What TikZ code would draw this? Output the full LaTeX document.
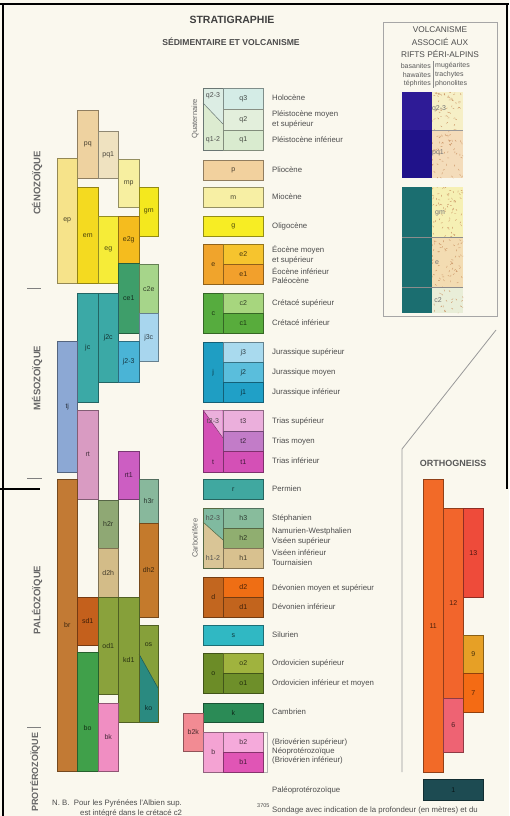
\documentclass[tikz,border=0pt]{standalone}
\usepackage{fontspec}
\setmainfont{Liberation Sans}

\definecolor{bgcream}{HTML}{FAF8EE}
% colonnes de gauche
\definecolor{cpq}{HTML}{EED2A0}
\definecolor{cpqa}{HTML}{EFE2C0}
\definecolor{cmp}{HTML}{F7EFA0}
\definecolor{cgm}{HTML}{F4E81E}
\definecolor{cep}{HTML}{F6E38A}
\definecolor{cem}{HTML}{F4DA20}
\definecolor{ceg}{HTML}{F6EC38}
\definecolor{cetg}{HTML}{F5BC1E}
\definecolor{ccea}{HTML}{3E9E6A}
\definecolor{ccte}{HTML}{A6D58A}
\definecolor{cjtc}{HTML}{A8D6EE}
\definecolor{cjc}{HTML}{3BA9A6}
\definecolor{cjtt}{HTML}{4AB4D6}
\definecolor{ctj}{HTML}{8CA8D4}
\definecolor{crt}{HTML}{D99BC2}
\definecolor{crta}{HTML}{CC5EC2}
\definecolor{cbr}{HTML}{C27A34}
\definecolor{chtr}{HTML}{88B89C}
\definecolor{chdr}{HTML}{8FA874}
\definecolor{cdth}{HTML}{D3BC88}
\definecolor{cdht}{HTML}{C47A2C}
\definecolor{csda}{HTML}{C4601C}
\definecolor{coda}{HTML}{8AA23C}
\definecolor{ckda}{HTML}{86A03A}
\definecolor{cos}{HTML}{86A03A}
\definecolor{cko}{HTML}{2A8A80}
\definecolor{cbo}{HTML}{40A04A}
\definecolor{cbk}{HTML}{F08EC2}
% legende
\definecolor{cqt}{HTML}{D4ECE6}
\definecolor{cqd}{HTML}{E3EFDC}
\definecolor{cqo}{HTML}{D9EBCF}
\definecolor{cqtt}{HTML}{DCEDE4}
\definecolor{cqot}{HTML}{DCEBD0}
\definecolor{cp}{HTML}{F2D19E}
\definecolor{cm}{HTML}{F7EFA4}
\definecolor{cg}{HTML}{F7ED24}
\definecolor{ce}{HTML}{F0A42C}
\definecolor{cet}{HTML}{F6C42E}
\definecolor{ceo}{HTML}{F2A02C}
\definecolor{cc}{HTML}{56AC3E}
\definecolor{cct}{HTML}{A7D67E}
\definecolor{cco}{HTML}{58AC3C}
\definecolor{cj}{HTML}{1F9EC3}
\definecolor{cjt}{HTML}{A9DAEE}
\definecolor{cjd}{HTML}{5ABEDC}
\definecolor{cjo}{HTML}{20A0C7}
\definecolor{ct}{HTML}{D450B6}
\definecolor{ctp}{HTML}{EBAFDC}
\definecolor{ctt}{HTML}{EBAFDC}
\definecolor{ctd}{HTML}{C27CC8}
\definecolor{cto}{HTML}{D450B6}
\definecolor{cr}{HTML}{40A8A0}
\definecolor{chtt}{HTML}{80BAA0}
\definecolor{choo}{HTML}{D9C596}
\definecolor{cht}{HTML}{88BC9C}
\definecolor{chd}{HTML}{90AE70}
\definecolor{cho}{HTML}{D8C18F}
\definecolor{cd}{HTML}{C2661F}
\definecolor{cdt}{HTML}{EF6E14}
\definecolor{cdo}{HTML}{C2641D}
\definecolor{cs}{HTML}{30B8C3}
\definecolor{co}{HTML}{6C8C27}
\definecolor{cot}{HTML}{A0B33E}
\definecolor{coo}{HTML}{6E8F2A}
\definecolor{ck}{HTML}{2B8B56}
\definecolor{cb}{HTML}{F4A3D3}
\definecolor{cbt}{HTML}{F5AADB}
\definecolor{cbbo}{HTML}{E055B5}
\definecolor{cbtk}{HTML}{F28B93}
% volcanisme
\definecolor{cvba}{HTML}{2E1B96}
\definecolor{cvbb}{HTML}{20128A}
\definecolor{cvt}{HTML}{1B6E70}
\definecolor{cspa}{HTML}{F6EFC6}
\definecolor{cspb}{HTML}{F4DCBA}
\definecolor{cspc}{HTML}{F6F0B4}
\definecolor{cspd}{HTML}{F3DCB2}
\definecolor{cspe}{HTML}{E9EED8}
\definecolor{cspk}{HTML}{C89060}
% orthogneiss
\definecolor{cgel}{HTML}{F26A28}
\definecolor{cgtw}{HTML}{F2652C}
\definecolor{cgth}{HTML}{EE4B3A}
\definecolor{cgni}{HTML}{E6A026}
\definecolor{cgse}{HTML}{F46B14}
\definecolor{cgsi}{HTML}{EE6373}
\definecolor{cgon}{HTML}{1D4B52}

\begin{document}
\begin{tikzpicture}[x = 1pt, y = -1pt,
    blk/.style = {draw = #1!60!black, fill = #1, line width = 0.5pt, inner sep = 0pt,
                  anchor = north west, text = #1!30!black, font = \fontsize{7}{8}\selectfont},
    tag/.style = {inner sep = 0pt, text = black!70, font = \fontsize{7}{8}\selectfont},
    lbl/.style = {anchor = west, inner sep = 0pt, text = black!70, font = \fontsize{7.8}{9}\selectfont},
    era/.style = {rotate = 90, inner sep = 0pt, text = black!60, font = \bfseries\fontsize{9.5}{10}\selectfont},
    tick/.style = {draw = black!50, line width = 0.9pt},
    speck/.style = {draw = cspk, line width = 0.4pt}]

  \useasboundingbox (0,0) rectangle (509,816);
  \fill [bgcream] (0,0) rectangle (509,816);

  % cadre noir
  \draw [line width = 2pt] (0,4) -- (509,4);
  \draw [line width = 2pt] (3,4) -- (3,816);
  \draw [line width = 1.5pt] (0,489) -- (40,489);
  \draw [line width = 2pt] (507,4) -- (507,489);

  % titres
  \node [font = \bfseries\fontsize{10.5}{12}\selectfont, text = black!75] (titre) at (232,20) {STRATIGRAPHIE};
  \node [font = \bfseries\fontsize{8.6}{10}\selectfont, text = black!70] (soustitre) at (231,42) {SÉDIMENTAIRE ET VOLCANISME};

  % eres
  \node [era] (ceno) at (37,183) {CÉNOZOÏQUE};
  \node [era] (meso) at (37,378) {MÉSOZOÏQUE};
  \node [era] (paleo) at (37,600) {PALÉOZOÏQUE};
  \node [era, font = \bfseries\fontsize{9}{10}\selectfont] (prot) at (35,772) {PROTÉROZOÏQUE};
  \draw [tick] (27,288) -- (41,288);
  \draw [tick] (27,478) -- (42,478);
  \draw [tick] (27,727) -- (41,727);

  % colonnes stratigraphiques
  \node [blk = cpq, minimum width = 21, minimum height = 68] (pq) at (77,110) {pq};
  \node [blk = cpqa, minimum width = 20, minimum height = 47] (pqa) at (98,131) {pq1};
  \node [blk = cmp, minimum width = 21, minimum height = 48] (mp) at (118,159) {mp};
  \node [blk = cgm, minimum width = 19, minimum height = 49] (gm) at (139,187) {gm};
  \node [blk = cep, minimum width = 20, minimum height = 125] (ep) at (57,158) {ep};
  \node [blk = cem, minimum width = 21, minimum height = 96] (em) at (77,187) {em};
  \node [blk = ceg, minimum width = 20, minimum height = 67] (eg) at (98,216) {eg};
  \node [blk = cetg, minimum width = 21, minimum height = 47] (etg) at (118,216) {e2g};
  \node [blk = ccea, minimum width = 21, minimum height = 70] (cea) at (118,263) {ce1};
  \node [blk = ccte, minimum width = 19, minimum height = 49] (cte) at (139,264) {c2e};
  \node [blk = cjtc, minimum width = 19, minimum height = 48] (jtc) at (139,313) {j3c};
  \node [blk = cjc, minimum width = 21, minimum height = 109] (jc) at (77,293) {jc};
  \node [blk = cjc, minimum width = 20, minimum height = 89] (jdc) at (98,293) {j2c};
  \node [blk = cjtt, minimum width = 21, minimum height = 41] (jtt) at (118,341) {j2-3};
  \node [blk = ctj, minimum width = 20, minimum height = 131] (tj) at (57,341) {tj};
  \node [blk = crt, minimum width = 21, minimum height = 89] (rt) at (77,410) {rt};
  \node [blk = crta, minimum width = 21, minimum height = 48] (rta) at (118,451) {rt1};
  \node [blk = cbr, minimum width = 20, minimum height = 292] (br) at (57,479) {br};
  \node [blk = chtr, minimum width = 19, minimum height = 44] (htr) at (139,479) {h3r};
  \node [blk = chdr, minimum width = 20, minimum height = 48] (hdr) at (98,500) {h2r};
  \node [blk = cdth, minimum width = 20, minimum height = 49] (dth) at (98,548) {d2h};
  \node [blk = cdht, minimum width = 19, minimum height = 94] (dht) at (139,523) {dh2};
  \node [blk = csda, minimum width = 21, minimum height = 48] (sda) at (77,597) {sd1};
  \node [blk = coda, minimum width = 20, minimum height = 97] (oda) at (98,597) {od1};
  \node [blk = ckda, minimum width = 21, minimum height = 125] (kda) at (118,597) {kd1};
  \node [blk = cbo, minimum width = 21, minimum height = 119] (bo) at (77,652) {};
  \node [tag, text = cbo!30!black] (bolab) at (87.5,728) {bo};
  \node [blk = cbk, minimum width = 20, minimum height = 68] (bk) at (98,703) {bk};
  \fill [cos] (139,625) -- (158,625) -- (158,688) -- (139,654) -- cycle;
  \fill [cko] (139,654) -- (158,688) -- (158,722) -- (139,722) -- cycle;
  \draw [cko!60!black, line width = 0.5pt] (139,654) -- (158,688);
  \draw [cos!60!black, line width = 0.5pt] (139,625) rectangle (158,722);
  \node [tag, text = cos!30!black] (oslab) at (148.5,645) {os};
  \node [tag, text = cko!30!black] (kolab) at (148.5,708) {ko};

  % legende : quaternaire
  \node [rotate = 90, inner sep = 0pt, text = black!60, font = \fontsize{7.5}{8}\selectfont] (quat) at (195,119) {Quaternaire};
  \fill [cqot] (203,88) rectangle (223,150);
  \fill [cqtt] (203,88) -- (223,88) -- (223,124) -- (203,103) -- cycle;
  \draw [cqt!50!black, line width = 0.5pt] (203,103) -- (223,124);
  \draw [cqt!50!black, line width = 0.5pt] (203,88) rectangle (223,150);
  \node [tag] (qtt) at (213,96) {q2-3};
  \node [tag] (qot) at (213,140) {q1-2};
  \node [blk = cqt, minimum width = 40, minimum height = 21] (qt) at (223,88) {q3};
  \node [blk = cqd, minimum width = 40, minimum height = 21] (qd) at (223,109) {q2};
  \node [blk = cqo, minimum width = 40, minimum height = 20] (qo) at (223,130) {q1};
  \node [lbl] (holo) at (272,98) {Holocène};
  \node [lbl] (pleia) at (272,114) {Pléistocène moyen};
  \node [lbl] (pleib) at (272,124) {et supérieur};
  \node [lbl] (pleic) at (272,140) {Pléistocène inférieur};

  % tertiaire
  \node [blk = cp, minimum width = 60, minimum height = 20] (p) at (203,160) {p};
  \node [lbl] (plio) at (272,170) {Pliocène};
  \node [blk = cm, minimum width = 60, minimum height = 20] (m) at (203,187) {m};
  \node [lbl] (mio) at (272,197) {Miocène};
  \node [blk = cg, minimum width = 60, minimum height = 20] (g) at (203,216) {g};
  \node [lbl] (oligo) at (272,226) {Oligocène};
  \node [blk = ce, minimum width = 20, minimum height = 40] (e) at (203,244) {e};
  \node [blk = cet, minimum width = 40, minimum height = 20] (et) at (223,244) {e2};
  \node [blk = ceo, minimum width = 40, minimum height = 20] (eo) at (223,264) {e1};
  \node [lbl] (eoca) at (272,250) {Éocène moyen};
  \node [lbl] (eocb) at (272,260) {et supérieur};
  \node [lbl] (eocc) at (272,271) {Éocène inférieur};
  \node [lbl] (paleoc) at (272,281) {Paléocène};

  % secondaire
  \node [blk = cc, minimum width = 20, minimum height = 40] (c) at (203,293) {c};
  \node [blk = cct, minimum width = 40, minimum height = 20] (ct) at (223,293) {c2};
  \node [blk = cco, minimum width = 40, minimum height = 20] (co) at (223,313) {c1};
  \node [lbl] (creta) at (272,303) {Crétacé supérieur};
  \node [lbl] (cretb) at (272,323) {Crétacé inférieur};
  \node [blk = cj, minimum width = 20, minimum height = 60] (j) at (203,342) {j};
  \node [blk = cjt, minimum width = 40, minimum height = 20] (jt) at (223,342) {j3};
  \node [blk = cjd, minimum width = 40, minimum height = 20] (jd) at (223,362) {j2};
  \node [blk = cjo, minimum width = 40, minimum height = 20] (jo) at (223,382) {j1};
  \node [lbl] (jura) at (272,352) {Jurassique supérieur};
  \node [lbl] (jurb) at (272,372) {Jurassique moyen};
  \node [lbl] (jurc) at (272,392) {Jurassique inférieur};
  \node [blk = ct, minimum width = 20, minimum height = 62] (tcol) at (203,410) {};
  \fill [ctp] (203.3,410.3) -- (222.7,410.3) -- (222.7,438) -- cycle;
  \draw [ct!60!black, line width = 0.5pt] (203,410) -- (223,438);
  \node [tag] (ttt) at (213,421) {t2-3};
  \node [tag, text = ct!30!black] (tlab) at (213,462) {t};
  \node [blk = ctt, minimum width = 40, minimum height = 21] (tt) at (223,410) {t3};
  \node [blk = ctd, minimum width = 40, minimum height = 20] (td) at (223,431) {t2};
  \node [blk = cto, minimum width = 40, minimum height = 21] (to) at (223,451) {t1};
  \node [lbl] (triaa) at (272,421) {Trias supérieur};
  \node [lbl] (triab) at (272,441) {Trias moyen};
  \node [lbl] (triac) at (272,461) {Trias inférieur};

  % primaire
  \node [blk = cr, minimum width = 60, minimum height = 20] (r) at (203,479) {r};
  \node [lbl] (perm) at (272,489) {Permien};
  \node [rotate = 90, inner sep = 0pt, text = black!60, font = \fontsize{7.5}{8}\selectfont] (carb) at (195,538) {Carbonifère};
  \fill [choo] (203,508) rectangle (223,568);
  \fill [chtt] (203,508) -- (223,508) -- (223,540) -- (203,522) -- cycle;
  \draw [chd!60!black, line width = 0.5pt] (203,522) -- (223,540);
  \draw [chd!60!black, line width = 0.5pt] (203,508) rectangle (223,568);
  \node [tag] (htt) at (213,518) {h2-3};
  \node [tag] (hoo) at (213,558) {h1-2};
  \node [blk = cht, minimum width = 40, minimum height = 20] (ht) at (223,508) {h3};
  \node [blk = chd, minimum width = 40, minimum height = 20] (hd) at (223,528) {h2};
  \node [blk = cho, minimum width = 40, minimum height = 20] (ho) at (223,548) {h1};
  \node [lbl] (steph) at (272,518) {Stéphanien};
  \node [lbl] (namur) at (272,531) {Namurien-Westphalien};
  \node [lbl] (visea) at (272,541) {Viséen supérieur};
  \node [lbl] (viseb) at (272,553) {Viséen inférieur};
  \node [lbl] (tourn) at (272,563) {Tournaisien};
  \node [blk = cd, minimum width = 20, minimum height = 40] (d) at (203,577) {d};
  \node [blk = cdt, minimum width = 40, minimum height = 20] (dt) at (223,577) {d2};
  \node [blk = cdo, minimum width = 40, minimum height = 20] (do) at (223,597) {d1};
  \node [lbl] (devoa) at (272,588) {Dévonien moyen et supérieur};
  \node [lbl] (devob) at (272,607) {Dévonien inférieur};
  \node [blk = cs, minimum width = 60, minimum height = 20] (s) at (203,625) {s};
  \node [lbl] (silu) at (272,635) {Silurien};
  \node [blk = co, minimum width = 20, minimum height = 40] (o) at (203,653) {o};
  \node [blk = cot, minimum width = 40, minimum height = 20] (ot) at (223,653) {o2};
  \node [blk = coo, minimum width = 40, minimum height = 20] (oo) at (223,673) {o1};
  \node [lbl] (ordoa) at (272,663) {Ordovicien supérieur};
  \node [lbl] (ordob) at (272,683) {Ordovicien inférieur et moyen};
  \node [blk = ck, minimum width = 60, minimum height = 19] (k) at (203,703) {k};
  \node [lbl] (camb) at (272,712) {Cambrien};

  % briovérien
  \node [blk = cbtk, minimum width = 20, minimum height = 38] (btk) at (183,713) {b2k};
  \node [blk = cb, minimum width = 20, minimum height = 40] (b) at (203,732) {b};
  \node [blk = cbt, minimum width = 40, minimum height = 20] (bt) at (223,732) {b2};
  \node [blk = cbbo, minimum width = 40, minimum height = 20] (bb) at (223,752) {b1};
  \draw [black!30, line width = 0.6pt] (264,732) -- (267,732) -- (267,772) -- (264,772);
  \node [lbl] (briova) at (272,742) {(Briovérien supérieur)};
  \node [lbl] (neopro) at (272,751) {Néoprotérozoïque};
  \node [lbl] (briovb) at (272,760) {(Briovérien inférieur)};
  \node [lbl] (paleopro) at (272,790) {Paléoprotérozoïque};

  % volcanisme
  \draw [black!35, line width = 0.6pt] (383,22) rectangle (497,316);
  \node [font = \fontsize{8.3}{9}\selectfont, text = black!70, inner sep = 0pt] (volca) at (440,30) {VOLCANISME};
  \node [font = \fontsize{8.3}{9}\selectfont, text = black!70, inner sep = 0pt] (volcb) at (440,42) {ASSOCIÉ AUX};
  \node [font = \fontsize{8.3}{9}\selectfont, text = black!70, inner sep = 0pt] (volcc) at (440,54) {RIFTS PÉRI-ALPINS};
  \draw [black!45, line width = 0.5pt] (433,61) -- (433,88);
  \node [anchor = east, font = \fontsize{7}{8}\selectfont, text = black!65, inner sep = 0pt] (basa) at (431,66) {basanites};
  \node [anchor = east, font = \fontsize{7}{8}\selectfont, text = black!65, inner sep = 0pt] (hawa) at (431,75) {hawaïtes};
  \node [anchor = east, font = \fontsize{7}{8}\selectfont, text = black!65, inner sep = 0pt] (teph) at (431,84) {téphrites};
  \node [anchor = west, font = \fontsize{7}{8}\selectfont, text = black!65, inner sep = 0pt] (muge) at (435,66) {mugéarites};
  \node [anchor = west, font = \fontsize{7}{8}\selectfont, text = black!65, inner sep = 0pt] (trach) at (435,75) {trachytes};
  \node [anchor = west, font = \fontsize{7}{8}\selectfont, text = black!65, inner sep = 0pt] (phono) at (435,84) {phonolites};

  \fill [cvba] (402,92) rectangle (432,130);
  \fill [cvbb] (402,130) rectangle (432,178);
  \fill [cspa] (432,92) rectangle (463,130);
  \fill [cspb] (432,130) rectangle (463,178);
  \fill [cvt] (402,187) rectangle (432,313);
  \fill [cspc] (432,187) rectangle (463,237);
  \fill [cspd] (432,237) rectangle (463,287);
  \fill [cspe] (432,287) rectangle (463,313);
  \pgfmathsetseed{11}
  \begin{scope}
    \clip (432,92) rectangle (463,178) (432,187) rectangle (463,313);
    \foreach \i in {1,...,260} {
      \pgfmathsetmacro{\sx}{432+31*rnd}
      \pgfmathsetmacro{\sy}{92+221*rnd}
      \pgfmathsetmacro{\sa}{360*rnd}
      \draw [speck] (\sx,\sy) -- ++(\sa:1.8);
    }
  \end{scope}
  \draw [black!40, line width = 0.4pt] (432,130) -- (463,130);
  \draw [black!45, line width = 0.5pt] (402,237) -- (463,237);
  \draw [black!45, line width = 0.5pt] (402,287) -- (463,287);
  \node [tag, text = black!55] (vqtt) at (439,109) {q2-3};
  \node [tag, text = black!55] (vpqa) at (438,153) {pq1};
  \node [tag, text = black!55] (vgm) at (440,213) {gm};
  \node [tag, text = black!55] (ve) at (437,263) {e};
  \node [tag, text = black!55] (vct) at (438,300) {c2};

  % orthogneiss
  \draw [black!40, line width = 0.8pt] (496,330) -- (402,449) -- (402,772);
  \node [font = \bfseries\fontsize{9}{10}\selectfont, text = black!65, inner sep = 0pt] (ortho) at (453,463) {ORTHOGNEISS};
  \node [blk = cgel, minimum width = 20, minimum height = 293] (ogel) at (423,479) {11};
  \node [blk = cgtw, minimum width = 20, minimum height = 190] (ogtw) at (443,508) {12};
  \node [blk = cgsi, minimum width = 20, minimum height = 54] (ogsi) at (443,698) {6};
  \node [blk = cgth, minimum width = 20, minimum height = 89] (ogth) at (463,508) {13};
  \node [blk = cgni, minimum width = 20, minimum height = 38] (ogni) at (463,635) {9};
  \node [blk = cgse, minimum width = 20, minimum height = 39] (ogse) at (463,673) {7};
  \node [blk = cgon, minimum width = 60, minimum height = 21] (ogon) at (423,779) {1};

  % notes
  \node [lbl] (nbun) at (52,803) {N. B.\ \ Pour les Pyrénées l'Albien sup.};
  \node [lbl] (nbdeux) at (80,813) {est intégré dans le crétacé c2};
  \node [anchor = west, inner sep = 0pt, text = black!70, font = \fontsize{5.5}{6}\selectfont] (sondnum) at (257,806) {3705};
  \node [lbl] (sondtxt) at (272,810) {Sondage avec indication de la profondeur (en mètres) et du};
\end{tikzpicture}
\end{document}
